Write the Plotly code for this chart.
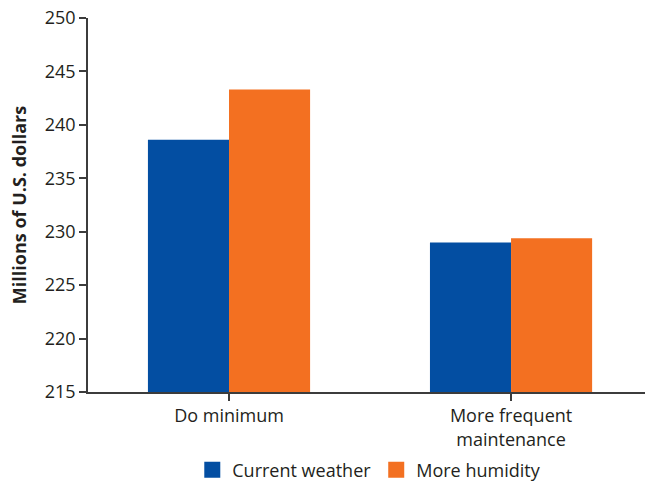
import plotly.graph_objects as go

categories = ["Do minimum", "More frequent<br>maintenance"]
series_names = ["Current weather", "More humidity"]
current_weather = [238.6, 229.0]
more_humidity = [243.3, 229.4]
y_ticks = [215, 220, 225, 230, 235, 240, 245, 250]
colors = ["#034ea2", "#f37021"]

font_family = "Open Sans, Lato, sans-serif"
text_color = "#231f20"
axis_color = "#3c3c3c"

fig = go.Figure()
for name, vals, col in zip(series_names, [current_weather, more_humidity], colors):
    fig.add_trace(go.Bar(x=[0, 1], y=vals, name=name, legendgroup=name, showlegend=False,
                         marker=dict(color=col, line=dict(width=0))))
for name, col in zip(series_names, colors):
    fig.add_trace(go.Scatter(x=[None], y=[None], mode="markers", name=name, legendgroup=name,
                             marker=dict(symbol="square", size=16, color=col)))

fig.update_layout(
    template="none",
    width=645, height=483,
    margin=dict(l=88, r=0, t=18, b=91, autoexpand=False),
    paper_bgcolor="white", plot_bgcolor="white",
    barmode="group", bargap=0.425, bargroupgap=0,
    font=dict(family=font_family, size=17, color=text_color),
    showlegend=True,
    legend=dict(orientation="h", x=0.505, xanchor="center", y=-0.209, yanchor="middle",
                font=dict(size=18, color=text_color), itemwidth=30, tracegroupgap=0,
                bgcolor="rgba(0,0,0,0)"),
    xaxis=dict(
        tickmode="array", tickvals=[0, 1], ticktext=categories,
        range=[-0.5, 1.475], automargin=False,
        showline=True, linecolor=axis_color, linewidth=1.5,
        ticks="outside", tickson="boundaries", ticklen=7, tickwidth=1.5, tickcolor=axis_color,
        showgrid=False, zeroline=False,
        tickfont=dict(size=18, color=text_color),
    ),
    yaxis=dict(
        range=[215, 250], tickvals=y_ticks, automargin=False,
        showline=True, linecolor=axis_color, linewidth=1.5,
        ticks="outside", ticklen=7, tickwidth=1.5, tickcolor=axis_color,
        showgrid=False, zeroline=False,
        tickfont=dict(size=18, color=text_color),
        title=dict(text="<b>Millions of U.S. dollars</b>", font=dict(size=18, color=text_color), standoff=13),
    ),
)

fig.write_html("out.html", config={"displayModeBar": False},
               post_script="document.body.style.margin='0';document.body.style.padding='0';")
